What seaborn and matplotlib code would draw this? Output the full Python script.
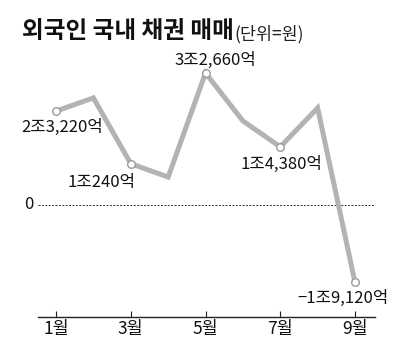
import seaborn as sns
import pandas as pd
from matplotlib import pyplot as plt

# 외국인 국내 채권 순매수 (단위: 억원)
months = [1, 2, 3, 4, 5, 6, 7, 8, 9]
net_buy = [23220, 26500, 10240, 6900, 32660, 20800, 14380, 24000, -19120]
labeled_months = [1, 3, 5, 7, 9]
tick_labels = ["1월", "3월", "5월", "7월", "9월"]
title = "외국인 국내 채권 매매"
unit = "(단위=원)"

# label offsets in pixels, relative to marker
label_offsets = {1: (6, -16), 3: (-29, -19), 5: (10, 13), 7: (1, -18), 9: (-12, -16)}


def fmt_won(v):
    sign = "−" if v < 0 else ""
    jo, eok = divmod(abs(v), 10000)
    return f"{sign}{jo}조{eok:,}억"


#%%
sns.set_theme(style="white")
plt.rcParams["font.family"] = ["Noto Sans CJK KR", "DejaVu Sans"]

table = pd.DataFrame({"month": months, "value": net_buy})
table_mark = table[table["month"].isin(labeled_months)]

fig = plt.figure(figsize=(4.0, 3.56), dpi=100)
ax = fig.add_axes([38 / 400, (356 - 317) / 356, 337 / 400, 277 / 356])

line_gray = "#b3b3b3"
sns.lineplot(data=table, x="month", y="value", ax=ax, color=line_gray,
             linewidth=3.6, solid_joinstyle="miter")
ax.scatter(table_mark["month"], table_mark["value"], s=30, facecolor="white",
           edgecolor="#9a9a9a", linewidth=1.0, zorder=5)

ax.axhline(0, color="#333333", linewidth=0.7, linestyle=(0, (2, 1.5)), zorder=1)
ax.annotate("0", xy=(0, 0), xycoords=("axes fraction", "data"), xytext=(-9, 0),
            textcoords="offset pixels", ha="center", va="center", fontsize=12,
            color="#111111")

for m, v in zip(table_mark["month"], table_mark["value"]):
    dx, dy = label_offsets[m]
    ax.annotate(fmt_won(v), xy=(m, v), xytext=(dx, dy), textcoords="offset pixels",
                ha="center", va="center", fontsize=12, color="#111111")

ax.set_xlim(0.518, 9.535)
ax.set_ylim(-27709, 40821)
ax.set_xticks(labeled_months)
ax.set_xticklabels(tick_labels, fontsize=12.5, color="#111111")
ax.set_yticks([])
ax.set_xlabel("")
ax.set_ylabel("")
for side in ["left", "top", "right"]:
    ax.spines[side].set_visible(False)
ax.spines["bottom"].set_color("#222222")
ax.spines["bottom"].set_linewidth(1.0)
ax.tick_params(axis="x", direction="in", length=4.5, width=0.8, color="#222222",
               pad=2, bottom=True)

t = fig.text(22 / 400, 1 - 38 / 356, title, fontsize=17, fontweight="bold",
             color="#111111", ha="left", va="baseline")
ax.annotate(unit, xy=(1, 0), xycoords=t, xytext=(1, 0), textcoords="offset pixels",
            ha="left", va="bottom", fontsize=12.5, color="#222222",
            annotation_clip=False)

plt.savefig("out.png", dpi=100)
plt.close()
